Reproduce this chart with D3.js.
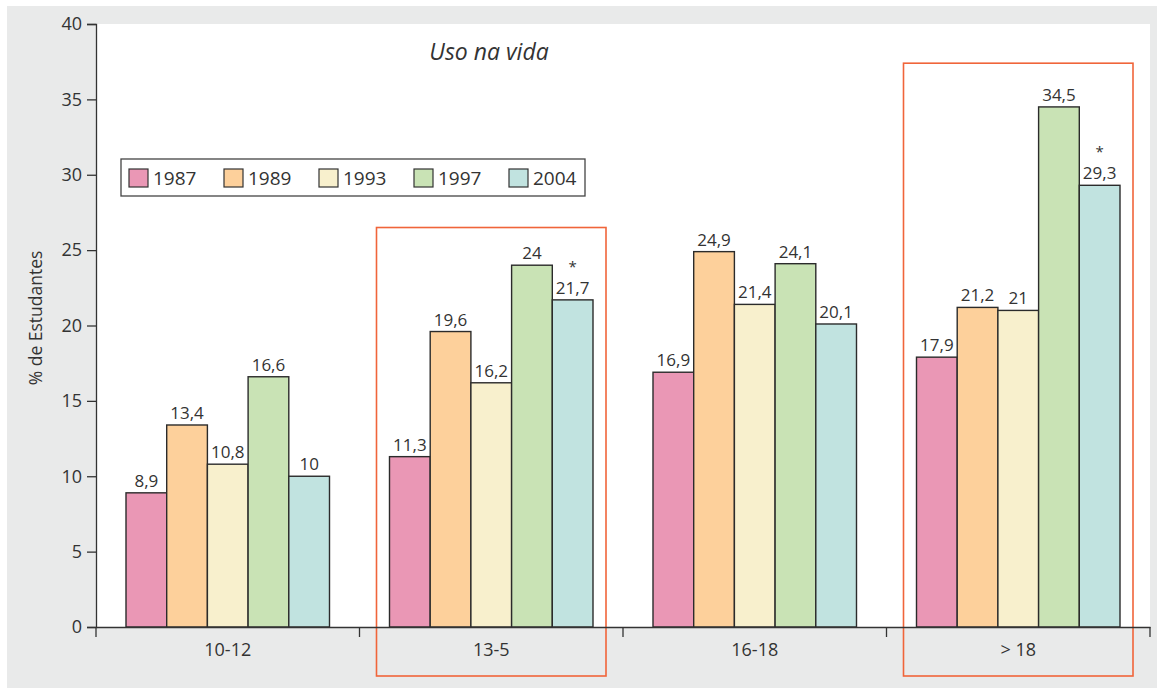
<!DOCTYPE html>
<html><head><meta charset="utf-8">
<script src="https://cdn.jsdelivr.net/npm/d3@7"></script>
<style>body{margin:0;background:#fff}svg{display:block}text{font-family:"Open Sans",sans-serif;fill:#333}</style>
</head><body><svg id="c" width="1157" height="689"></svg>
<script>
const categories = ["10-12", "13-5", "16-18", "> 18"];
const years = ["1987", "1989", "1993", "1997", "2004"];
const v1987 = [8.9, 11.3, 16.9, 17.9];
const v1989 = [13.4, 19.6, 24.9, 21.2];
const v1993 = [10.8, 16.2, 21.4, 21];
const v1997 = [16.6, 24, 24.1, 34.5];
const v2004 = [10, 21.7, 20.1, 29.3];
const colors = ["#ea97b5", "#fdd09b", "#f8f0cd", "#c9e3b5", "#c1e3e0"];
const yTicks = [0, 5, 10, 15, 20, 25, 30, 35, 40];
const starred = ["13-5", "> 18"];          // asterisk on 2004 value
const highlighted = ["13-5", "> 18"];      // orange frames
const highlightTop = [26.5, 37.4];         // frame top (in % units)
const title = "Uso na vida";
const yTitle = "% de Estudantes";

const series = [v1987, v1989, v1993, v1997, v2004];
const svg = d3.select("#c");
const L = 96, R = 1150, T = 24, B = 627;

svg.append("rect").attr("x", 7).attr("y", 6).attr("width", 1150).attr("height", 682).attr("fill", "#e9eaea");
svg.append("rect").attr("x", L).attr("y", T).attr("width", R - L).attr("height", B - T).attr("fill", "#fff");

const x = d3.scaleBand().domain(categories).range([L, R]).paddingInner(0).paddingOuter(0);
const xi = d3.scaleBand().domain(years).range([30, x.bandwidth() - 30]);
const y = d3.scaleLinear().domain([0, 40]).range([B, T]);
const fmt = v => String(v).replace(".", ",");

// highlight frames
highlighted.forEach((c, i) => {
  svg.append("rect")
    .attr("x", x(c) + 17).attr("y", y(highlightTop[i]))
    .attr("width", x.bandwidth() - 34).attr("height", 676 - y(highlightTop[i]))
    .attr("fill", "none").attr("stroke", "#f0653a").attr("stroke-width", 1.6);
});

// bars
categories.forEach((c, ci) => {
  const g = svg.append("g").attr("transform", `translate(${x(c)},0)`);
  years.forEach((yr, k) => {
    const v = series[k][ci];
    g.append("rect").attr("x", xi(yr)).attr("y", y(v))
      .attr("width", xi.bandwidth()).attr("height", y(0) - y(v))
      .attr("fill", colors[k]).attr("stroke", "#2b2b2b").attr("stroke-width", 1.4);
    g.append("text").attr("x", xi(yr) + xi.bandwidth() / 2).attr("y", y(v) - 6)
      .attr("text-anchor", "middle").attr("font-size", 17).text(fmt(v));
    if (k === 4 && starred.includes(c)) {
      g.append("text").attr("x", xi(yr) + xi.bandwidth() / 2).attr("y", y(v) - 28)
        .attr("text-anchor", "middle").attr("font-size", 15).text("*");
    }
  });
});

// axes
const ya = svg.append("g").attr("transform", `translate(${L},0)`)
  .call(d3.axisLeft(y).tickValues(yTicks).tickSize(9).tickPadding(5));
ya.selectAll("text").attr("font-size", 18).attr("font-family", "Open Sans").attr("fill", "#333");
ya.selectAll("line,path").attr("stroke", "#333").attr("stroke-width", 1.3);

const xa = svg.append("g").attr("transform", `translate(0,${B})`)
  .call(d3.axisBottom(x).tickSize(0).tickPadding(16));
xa.select(".domain").attr("stroke", "#333").attr("stroke-width", 1.3);
xa.selectAll("text").attr("font-size", 18).attr("font-family", "Open Sans").attr("fill", "#333");
// boundary ticks
const bounds = categories.map(c => x(c)).concat([x(categories[categories.length - 1]) + x.bandwidth()]);
svg.selectAll(".bt").data(bounds).enter().append("line")
  .attr("x1", d => d).attr("x2", d => d).attr("y1", B).attr("y2", B + 10)
  .attr("stroke", "#333").attr("stroke-width", 1.3);

// titles
svg.append("text").attr("x", 489).attr("y", 60).attr("text-anchor", "middle")
  .attr("font-size", 23).attr("font-style", "italic").text(title);
svg.append("text").attr("transform", `translate(42,318) rotate(-90)`)
  .attr("text-anchor", "middle").attr("font-size", 17.5).text(yTitle);

// legend
const lg = svg.append("g").attr("transform", "translate(121,159)");
lg.append("rect").attr("width", 464).attr("height", 37).attr("fill", "#fff").attr("stroke", "#444").attr("stroke-width", 1.3);
years.forEach((yr, k) => {
  const e = lg.append("g").attr("transform", `translate(${8 + k * 95},10)`);
  e.append("rect").attr("width", 19).attr("height", 18).attr("fill", colors[k]).attr("stroke", "#333").attr("stroke-width", 1.2);
  e.append("text").attr("x", 24).attr("y", 16).attr("font-size", 19).text(yr);
});
</script></body></html>
